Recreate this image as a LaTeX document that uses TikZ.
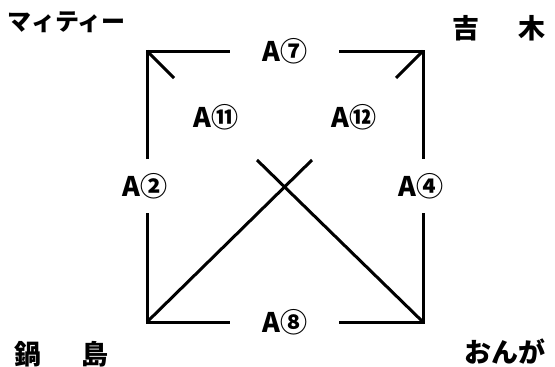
\documentclass[tikz,border=0pt]{standalone}
\usepackage{fontspec}
\setmainfont{Noto Sans CJK JP}[BoldFont={Noto Sans CJK JP Black}]
\begin{document}
\begin{tikzpicture}[x=1pt,y=-1pt,
  ln/.style={line width=3pt,line cap=butt,line join=miter},
  lab/.style={font=\fontsize{27}{27}\selectfont\bfseries,inner sep=0pt},
  team/.style={font=\fontsize{27}{27}\selectfont\bfseries,inner sep=0pt}]
\useasboundingbox (0,0) rectangle (555,367);
% corners
\coordinate (TL) at (147,51);
\coordinate (TR) at (423,51);
\coordinate (BL) at (147,322);
\coordinate (BR) at (423,322);
% gap ends
\coordinate (t1) at (230,51);
\coordinate (t2) at (339,51);
\coordinate (b1) at (230,322);
\coordinate (b2) at (339,322);
\coordinate (l1) at (147,159);
\coordinate (l2) at (147,213);
\coordinate (r1) at (423,159);
\coordinate (r2) at (423,213);
\coordinate (dtl) at (174,78);
\coordinate (dtr) at (396,78);
\coordinate (xa) at (312,160);
\coordinate (xb) at (257,160);
% lines
\draw[ln] (l1) -- (TL) -- (t1);
\draw[ln] (t2) -- (TR) -- (r1);
\draw[ln] (l2) -- (BL) -- (b1);
\draw[ln] (b2) -- (BR) -- (r2);
\draw[ln] (TL) -- (dtl);
\draw[ln] (TR) -- (dtr);
\draw[ln] (BL) -- (xa);
\draw[ln] (BR) -- (xb);
% labels
\node[lab] (a7) at (285,51) {A⑦};
\node[lab] (a11) at (216,117) {A⑪};
\node[lab] (a12) at (354,117) {A⑫};
\node[lab] (a2) at (145,186) {A②};
\node[lab] (a4) at (421,186) {A④};
\node[lab] (a8) at (285,322) {A⑧};
% teams
\node[team,anchor=west,font=\fontsize{24}{24}\selectfont\bfseries] (m) at (7,22) {マィティー};
\node[team,anchor=east] (y) at (546,28) {吉\hspace{1.45em}木};
\node[team,anchor=west] (n) at (14,354) {鍋\hspace{1.5em}島};
\node[team,anchor=east] (o) at (546,352) {おんが};
\end{tikzpicture}
\end{document}
